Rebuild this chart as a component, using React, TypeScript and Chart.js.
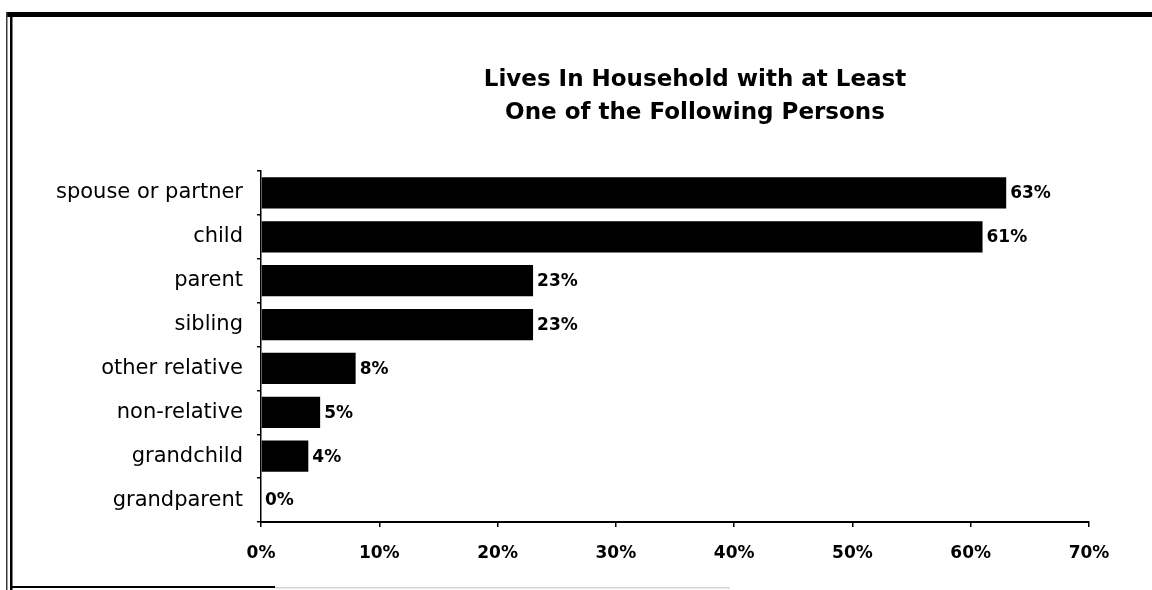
import React, { useEffect, useRef } from "react";
import { Chart, registerables } from "chart.js";

Chart.register(...registerables);

// Chart text and values
const titleLines = ["Lives In Household with at Least", "One of the Following Persons"];
const categories = [
  "spouse or partner",
  "child",
  "parent",
  "sibling",
  "other relative",
  "non-relative",
  "grandchild",
  "grandparent",
];
const shares = [63, 61, 23, 23, 8, 5, 4, 0];
const axisMax = 70;
const axisStep = 10;

const FONT = "'DejaVu Sans', 'Liberation Sans', sans-serif";
const pct = (v: number | string) => `${v}%`;

// White page with the heavy top rule and double left rule of the frame
const framePlugin = {
  id: "frame",
  beforeDraw(chart: any) {
    const { ctx, width, height } = chart;
    ctx.save();
    ctx.fillStyle = "#ffffff";
    ctx.fillRect(0, 0, width, height);
    ctx.fillStyle = "#000000";
    ctx.fillRect(7, 12, width - 7, 5);
    ctx.fillStyle = "#3a3a3a";
    ctx.fillRect(6, 12, 1.5, height - 12);
    ctx.fillStyle = "#000000";
    ctx.fillRect(10, 12, 2.5, height - 12);
    ctx.fillRect(10, 586, 265, 2);
    ctx.fillStyle = "#d4d4d4";
    ctx.fillRect(275, 587, 455, 1.5);
    ctx.restore();
  },
};

// Two-line bold heading
const headingPlugin = {
  id: "heading",
  afterDraw(chart: any) {
    const { ctx } = chart;
    ctx.save();
    ctx.fillStyle = "#000000";
    ctx.font = `bold 23px ${FONT}`;
    ctx.textAlign = "center";
    ctx.textBaseline = "alphabetic";
    titleLines.forEach((line, i) => {
      ctx.fillText(line, 695, 86 + i * 33);
    });
    ctx.restore();
  },
};

// Percentage written just past the end of each bar
const valueLabelPlugin = {
  id: "valueLabels",
  afterDatasetsDraw(chart: any) {
    const { ctx } = chart;
    const meta = chart.getDatasetMeta(0);
    const data = chart.data.datasets[0].data as number[];
    ctx.save();
    ctx.fillStyle = "#000000";
    ctx.font = `bold 17px ${FONT}`;
    ctx.textAlign = "left";
    ctx.textBaseline = "middle";
    meta.data.forEach((bar: any, i: number) => {
      ctx.fillText(pct(data[i]), bar.x + 4, bar.y + 1);
    });
    ctx.restore();
  },
};

export default function App() {
  const canvasRef = useRef<HTMLCanvasElement | null>(null);

  useEffect(() => {
    if (!canvasRef.current) return;
    const chart = new Chart(canvasRef.current, {
      type: "bar",
      data: {
        labels: categories,
        datasets: [
          {
            data: shares,
            backgroundColor: "#000000",
            borderWidth: 0,
            barPercentage: 0.71,
            categoryPercentage: 1,
          },
        ],
      },
      options: {
        indexAxis: "y",
        responsive: false,
        animation: false,
        layout: { padding: { top: 171, right: 63, bottom: 0, left: 0 } },
        plugins: {
          legend: { display: false },
          tooltip: { enabled: false },
          title: { display: false },
        },
        scales: {
          x: {
            type: "linear",
            min: 0,
            max: axisMax,
            ticks: {
              stepSize: axisStep,
              callback: (v: any) => pct(v),
              color: "#000000",
              font: { family: FONT, size: 17, weight: "bold" },
              padding: 16,
            },
            grid: {
              drawOnChartArea: false,
              drawTicks: true,
              tickLength: 5,
              color: "#000000",
              lineWidth: 1.5,
            },
            border: { display: true, color: "#000000", width: 2 },
            afterFit: (s: any) => {
              s.height = 68;
            },
          },
          y: {
            type: "category",
            ticks: {
              color: "#000000",
              font: { family: FONT, size: 21 },
              padding: 14,
            },
            grid: {
              offset: true,
              drawOnChartArea: false,
              drawTicks: true,
              tickLength: 4,
              color: "#000000",
              lineWidth: 1.5,
            },
            border: { display: true, color: "#000000", width: 1.5 },
            afterFit: (s: any) => {
              s.width = 261;
            },
          },
        },
      },
      plugins: [framePlugin, headingPlugin, valueLabelPlugin],
    });
    return () => chart.destroy();
  }, []);

  return (
    <div style={{ position: "fixed", left: 0, top: 0, width: 1152, height: 590, background: "#fff" }}>
      <canvas ref={canvasRef} width={1152} height={590} style={{ display: "block" }} />
    </div>
  );
}
